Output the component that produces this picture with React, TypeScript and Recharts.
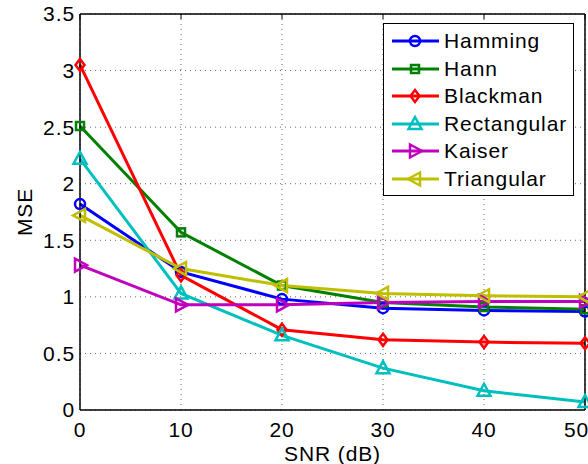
import React from 'react';
import {
  LineChart,
  Line,
  XAxis,
  YAxis,
  CartesianGrid,
  Label,
} from 'recharts';

const snr = [0, 10, 20, 30, 40, 50];
const hamming = [1.82, 1.22, 0.98, 0.9, 0.88, 0.87];
const hann = [2.51, 1.57, 1.1, 0.95, 0.91, 0.89];
const blackman = [3.05, 1.19, 0.71, 0.62, 0.6, 0.59];
const rectangular = [2.22, 1.03, 0.66, 0.37, 0.17, 0.07];
const kaiser = [1.28, 0.93, 0.93, 0.95, 0.96, 0.96];
const triangular = [1.72, 1.25, 1.1, 1.03, 1.01, 1.0];

const xTicks = [0, 10, 20, 30, 40, 50];
const yTicks = [0, 0.5, 1, 1.5, 2, 2.5, 3, 3.5];

const FONT = '"Liberation Sans", Arial, Helvetica, sans-serif';

type MarkerKind = 'circle' | 'square' | 'diamond' | 'up' | 'right' | 'left';

const seriesDefs: { key: string; name: string; color: string; marker: MarkerKind; values: number[] }[] = [
  { key: 'hamming', name: 'Hamming', color: '#0000ff', marker: 'circle', values: hamming },
  { key: 'hann', name: 'Hann', color: '#008000', marker: 'square', values: hann },
  { key: 'blackman', name: 'Blackman', color: '#ff0000', marker: 'diamond', values: blackman },
  { key: 'rectangular', name: 'Rectangular', color: '#00bfbf', marker: 'up', values: rectangular },
  { key: 'kaiser', name: 'Kaiser', color: '#bf00bf', marker: 'right', values: kaiser },
  { key: 'triangular', name: 'Triangular', color: '#bfbf00', marker: 'left', values: triangular },
];

const data = snr.map((x, i) => {
  const row: Record<string, number> = { snr: x };
  seriesDefs.forEach((s) => {
    row[s.key] = s.values[i];
  });
  return row;
});

// draws one MATLAB style marker centred on cx, cy
const Marker = ({ kind, cx, cy, color }: { kind: MarkerKind; cx: number; cy: number; color: string }) => {
  const common = { fill: 'none', stroke: color, strokeWidth: 2.5 };
  switch (kind) {
    case 'circle':
      return <circle cx={cx} cy={cy} r={5} {...common} />;
    case 'square':
      return <rect x={cx - 4} y={cy - 4} width={8} height={8} {...common} />;
    case 'diamond':
      return <polygon points={`${cx},${cy - 6} ${cx + 4.5},${cy} ${cx},${cy + 6} ${cx - 4.5},${cy}`} {...common} />;
    case 'up':
      return <polygon points={`${cx},${cy - 7} ${cx + 6.5},${cy + 5} ${cx - 6.5},${cy + 5}`} {...common} />;
    case 'right':
      return <polygon points={`${cx + 7},${cy} ${cx - 5},${cy + 6.5} ${cx - 5},${cy - 6.5}`} {...common} />;
    case 'left':
      return <polygon points={`${cx - 7},${cy} ${cx + 5},${cy + 6.5} ${cx + 5},${cy - 6.5}`} {...common} />;
  }
  return null;
};

const makeDot = (kind: MarkerKind, color: string) => (props: any) => (
  <Marker key={`${kind}-${props.index}`} kind={kind} cx={props.cx} cy={props.cy} color={color} />
);

const NoTick = () => <g />;

const ChartLegend = () => (
  <div
    style={{
      position: 'absolute',
      left: 383,
      top: 23,
      width: 191,
      height: 173,
      border: '1.5px solid #000',
      background: '#fff',
      boxSizing: 'border-box',
      fontFamily: FONT,
      fontSize: 21,
      letterSpacing: 0.9,
    }}
  >
    {seriesDefs.map((s, i) => (
      <div
        key={s.key}
        style={{ position: 'absolute', left: 0, top: 4 + i * 27.6, height: 26, display: 'flex', alignItems: 'center' }}
      >
        <svg width={60} height={26} style={{ display: 'block' }}>
          <line x1={8} x2={55} y1={13} y2={13} stroke={s.color} strokeWidth={3} />
          <Marker kind={s.marker} cx={31} cy={13} color={s.color} />
        </svg>
        <span style={{ color: '#000', lineHeight: '26px' }}>{s.name}</span>
      </div>
    ))}
  </div>
);

const App = () => {
  return (
    <div style={{ position: 'absolute', left: 0, top: 0, width: 588, height: 464, background: '#fff' }}>
      <LineChart
        width={588}
        height={464}
        data={data}
        margin={{ top: 14, right: 3, bottom: 0, left: 0 }}
        style={{ fontFamily: FONT }}
      >
        <CartesianGrid stroke="#666" strokeDasharray="1 4" strokeWidth={1} />
        <XAxis
          xAxisId="top"
          orientation="top"
          dataKey="snr"
          type="number"
          domain={[0, 50]}
          ticks={xTicks}
          height={1}
          mirror
          tick={<NoTick />}
          tickSize={5}
          stroke="#000"
          axisLine={{ stroke: '#000', strokeWidth: 1.5 }}
          tickLine={{ stroke: '#000' }}
        />
        <XAxis
          dataKey="snr"
          type="number"
          domain={[0, 50]}
          ticks={xTicks}
          height={54}
          tickSize={0}
          tickMargin={12}
          tick={{ fill: '#000', fontSize: 21, letterSpacing: 0.9 }}
          axisLine={{ stroke: '#000', strokeWidth: 1.5 }}
          tickLine={false}
        >
          <Label value="SNR (dB)" position="insideBottom" offset={3} fill="#000" fontSize={21} letterSpacing={0.9} />
        </XAxis>
        <YAxis
          type="number"
          domain={[0, 3.5]}
          ticks={yTicks}
          width={80}
          tickSize={0}
          tickMargin={5}
          tick={{ fill: '#000', fontSize: 21, letterSpacing: 0.9 }}
          axisLine={{ stroke: '#000', strokeWidth: 1.5 }}
          tickLine={false}
        >
          <Label
            value="MSE"
            angle={-90}
            position="insideLeft"
            offset={25}
            textAnchor="middle"
            fill="#000"
            fontSize={21}
            letterSpacing={0.9}
          />
        </YAxis>
        <YAxis
          yAxisId="right"
          orientation="right"
          type="number"
          domain={[0, 3.5]}
          ticks={yTicks}
          width={1}
          mirror
          tick={<NoTick />}
          tickSize={5}
          axisLine={{ stroke: '#000', strokeWidth: 1.5 }}
          tickLine={{ stroke: '#000' }}
        />
        {seriesDefs.map((s) => (
          <Line
            key={s.key}
            dataKey={s.key}
            name={s.name}
            stroke={s.color}
            strokeWidth={3}
            type="linear"
            dot={makeDot(s.marker, s.color)}
            activeDot={false}
            isAnimationActive={false}
          />
        ))}
      </LineChart>
      <ChartLegend />
    </div>
  );
};

export default App;
